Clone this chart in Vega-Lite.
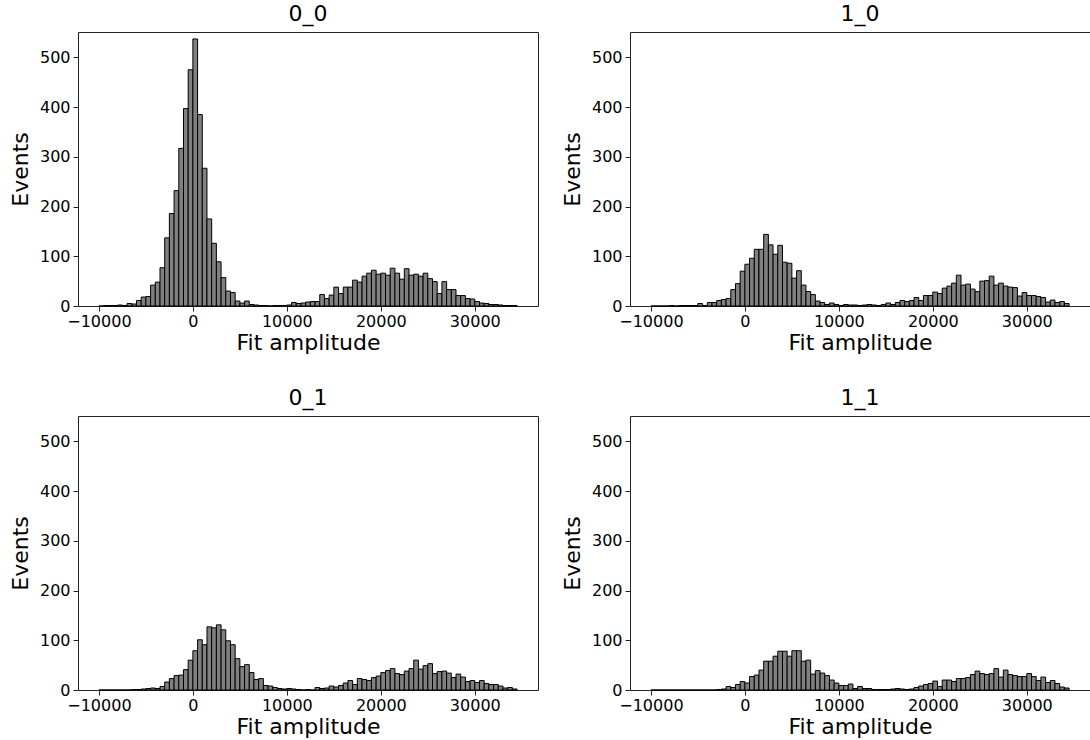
{
"$schema": "https://vega.github.io/schema/vega-lite/v6.json",
"padding": {"left": 8, "top": 2, "right": 0, "bottom": 0},
"background": "white",
"bounds": "flush",
"columns": 2,
"spacing": {"row": 110, "column": 92},
"config": {
  "font": "DejaVu Sans",
  "view": {"stroke": "#222", "strokeWidth": 1},
  "axis": {"grid": false, "domain": false, "tickColor": "#222", "tickSize": 5, "labelFontSize": 16, "titleFontSize": 22, "labelColor": "#000", "titleColor": "#000", "titleFontWeight": "normal", "labelPadding": 3, "labelFont": "DejaVu Sans", "titleFont": "DejaVu Sans"},
  "axisX": {"titlePadding": 3, "labelPadding": 2},
  "axisY": {"titlePadding": 7},
  "title": {"fontSize": 22, "fontWeight": "normal", "font": "DejaVu Sans", "color": "#000", "anchor": "middle", "offset": 6}
},
"data": {"values": [
{"p":"0_0","b":-10000,"e":-9500,"c":0},{"p":"0_0","b":-9500,"e":-9000,"c":1},{"p":"0_0","b":-9000,"e":-8500,"c":1},{"p":"0_0","b":-8500,"e":-8000,"c":1},{"p":"0_0","b":-8000,"e":-7500,"c":2},{"p":"0_0","b":-7500,"e":-7000,"c":1},{"p":"0_0","b":-7000,"e":-6500,"c":5},{"p":"0_0","b":-6500,"e":-6000,"c":4},{"p":"0_0","b":-6000,"e":-5500,"c":11},{"p":"0_0","b":-5500,"e":-5000,"c":18},
{"p":"0_0","b":-5000,"e":-4500,"c":19},{"p":"0_0","b":-4500,"e":-4000,"c":42},{"p":"0_0","b":-4000,"e":-3500,"c":48},{"p":"0_0","b":-3500,"e":-3000,"c":77},{"p":"0_0","b":-3000,"e":-2500,"c":137},{"p":"0_0","b":-2500,"e":-2000,"c":186},{"p":"0_0","b":-2000,"e":-1500,"c":232},{"p":"0_0","b":-1500,"e":-1000,"c":317},{"p":"0_0","b":-1000,"e":-500,"c":397},{"p":"0_0","b":-500,"e":0,"c":475},
{"p":"0_0","b":0,"e":500,"c":537},{"p":"0_0","b":500,"e":1000,"c":385},{"p":"0_0","b":1000,"e":1500,"c":277},{"p":"0_0","b":1500,"e":2000,"c":175},{"p":"0_0","b":2000,"e":2500,"c":126},{"p":"0_0","b":2500,"e":3000,"c":89},{"p":"0_0","b":3000,"e":3500,"c":57},{"p":"0_0","b":3500,"e":4000,"c":30},{"p":"0_0","b":4000,"e":4500,"c":27},{"p":"0_0","b":4500,"e":5000,"c":10},
{"p":"0_0","b":5000,"e":5500,"c":6},{"p":"0_0","b":5500,"e":6000,"c":10},{"p":"0_0","b":6000,"e":6500,"c":3},{"p":"0_0","b":6500,"e":7000,"c":2},{"p":"0_0","b":7000,"e":7500,"c":1},{"p":"0_0","b":7500,"e":8000,"c":1},{"p":"0_0","b":8000,"e":8500,"c":0},{"p":"0_0","b":8500,"e":9000,"c":1},{"p":"0_0","b":9000,"e":9500,"c":1},{"p":"0_0","b":9500,"e":10000,"c":1},
{"p":"0_0","b":10000,"e":10500,"c":2},{"p":"0_0","b":10500,"e":11000,"c":7},{"p":"0_0","b":11000,"e":11500,"c":5},{"p":"0_0","b":11500,"e":12000,"c":6},{"p":"0_0","b":12000,"e":12500,"c":8},{"p":"0_0","b":12500,"e":13000,"c":9},{"p":"0_0","b":13000,"e":13500,"c":9},{"p":"0_0","b":13500,"e":14000,"c":23},{"p":"0_0","b":14000,"e":14500,"c":15},{"p":"0_0","b":14500,"e":15000,"c":22},
{"p":"0_0","b":15000,"e":15500,"c":38},{"p":"0_0","b":15500,"e":16000,"c":25},{"p":"0_0","b":16000,"e":16500,"c":38},{"p":"0_0","b":16500,"e":17000,"c":38},{"p":"0_0","b":17000,"e":17500,"c":52},{"p":"0_0","b":17500,"e":18000,"c":48},{"p":"0_0","b":18000,"e":18500,"c":60},{"p":"0_0","b":18500,"e":19000,"c":66},{"p":"0_0","b":19000,"e":19500,"c":72},{"p":"0_0","b":19500,"e":20000,"c":64},
{"p":"0_0","b":20000,"e":20500,"c":66},{"p":"0_0","b":20500,"e":21000,"c":62},{"p":"0_0","b":21000,"e":21500,"c":76},{"p":"0_0","b":21500,"e":22000,"c":66},{"p":"0_0","b":22000,"e":22500,"c":54},{"p":"0_0","b":22500,"e":23000,"c":75},{"p":"0_0","b":23000,"e":23500,"c":62},{"p":"0_0","b":23500,"e":24000,"c":64},{"p":"0_0","b":24000,"e":24500,"c":60},{"p":"0_0","b":24500,"e":25000,"c":66},
{"p":"0_0","b":25000,"e":25500,"c":55},{"p":"0_0","b":25500,"e":26000,"c":49},{"p":"0_0","b":26000,"e":26500,"c":25},{"p":"0_0","b":26500,"e":27000,"c":49},{"p":"0_0","b":27000,"e":27500,"c":33},{"p":"0_0","b":27500,"e":28000,"c":33},{"p":"0_0","b":28000,"e":28500,"c":21},{"p":"0_0","b":28500,"e":29000,"c":21},{"p":"0_0","b":29000,"e":29500,"c":15},{"p":"0_0","b":29500,"e":30000,"c":14},
{"p":"0_0","b":30000,"e":30500,"c":9},{"p":"0_0","b":30500,"e":31000,"c":6},{"p":"0_0","b":31000,"e":31500,"c":5},{"p":"0_0","b":31500,"e":32000,"c":3},{"p":"0_0","b":32000,"e":32500,"c":3},{"p":"0_0","b":32500,"e":33000,"c":2},{"p":"0_0","b":33000,"e":33500,"c":1},{"p":"0_0","b":33500,"e":34000,"c":1},{"p":"0_0","b":34000,"e":34500,"c":1},

{"p":"1_0","b":-10000,"e":-9500,"c":0},{"p":"1_0","b":-9500,"e":-9000,"c":0},{"p":"1_0","b":-9000,"e":-8500,"c":0},{"p":"1_0","b":-8500,"e":-8000,"c":0},{"p":"1_0","b":-8000,"e":-7500,"c":1},{"p":"1_0","b":-7500,"e":-7000,"c":0},{"p":"1_0","b":-7000,"e":-6500,"c":1},{"p":"1_0","b":-6500,"e":-6000,"c":1},{"p":"1_0","b":-6000,"e":-5500,"c":1},{"p":"1_0","b":-5500,"e":-5000,"c":1},
{"p":"1_0","b":-5000,"e":-4500,"c":5},{"p":"1_0","b":-4500,"e":-4000,"c":1},{"p":"1_0","b":-4000,"e":-3500,"c":7},{"p":"1_0","b":-3500,"e":-3000,"c":7},{"p":"1_0","b":-3000,"e":-2500,"c":11},{"p":"1_0","b":-2500,"e":-2000,"c":13},{"p":"1_0","b":-2000,"e":-1500,"c":15},{"p":"1_0","b":-1500,"e":-1000,"c":33},{"p":"1_0","b":-1000,"e":-500,"c":45},{"p":"1_0","b":-500,"e":0,"c":70},
{"p":"1_0","b":0,"e":500,"c":84},{"p":"1_0","b":500,"e":1000,"c":96},{"p":"1_0","b":1000,"e":1500,"c":114},{"p":"1_0","b":1500,"e":2000,"c":114},{"p":"1_0","b":2000,"e":2500,"c":144},{"p":"1_0","b":2500,"e":3000,"c":123},{"p":"1_0","b":3000,"e":3500,"c":104},{"p":"1_0","b":3500,"e":4000,"c":122},{"p":"1_0","b":4000,"e":4500,"c":88},{"p":"1_0","b":4500,"e":5000,"c":86},
{"p":"1_0","b":5000,"e":5500,"c":56},{"p":"1_0","b":5500,"e":6000,"c":71},{"p":"1_0","b":6000,"e":6500,"c":42},{"p":"1_0","b":6500,"e":7000,"c":29},{"p":"1_0","b":7000,"e":7500,"c":23},{"p":"1_0","b":7500,"e":8000,"c":10},{"p":"1_0","b":8000,"e":8500,"c":7},{"p":"1_0","b":8500,"e":9000,"c":3},{"p":"1_0","b":9000,"e":9500,"c":6},{"p":"1_0","b":9500,"e":10000,"c":3},
{"p":"1_0","b":10000,"e":10500,"c":1},{"p":"1_0","b":10500,"e":11000,"c":3},{"p":"1_0","b":11000,"e":11500,"c":2},{"p":"1_0","b":11500,"e":12000,"c":2},{"p":"1_0","b":12000,"e":12500,"c":1},{"p":"1_0","b":12500,"e":13000,"c":2},{"p":"1_0","b":13000,"e":13500,"c":3},{"p":"1_0","b":13500,"e":14000,"c":2},{"p":"1_0","b":14000,"e":14500,"c":1},{"p":"1_0","b":14500,"e":15000,"c":3},
{"p":"1_0","b":15000,"e":15500,"c":6},{"p":"1_0","b":15500,"e":16000,"c":3},{"p":"1_0","b":16000,"e":16500,"c":7},{"p":"1_0","b":16500,"e":17000,"c":11},{"p":"1_0","b":17000,"e":17500,"c":9},{"p":"1_0","b":17500,"e":18000,"c":11},{"p":"1_0","b":18000,"e":18500,"c":17},{"p":"1_0","b":18500,"e":19000,"c":11},{"p":"1_0","b":19000,"e":19500,"c":21},{"p":"1_0","b":19500,"e":20000,"c":21},
{"p":"1_0","b":20000,"e":20500,"c":28},{"p":"1_0","b":20500,"e":21000,"c":25},{"p":"1_0","b":21000,"e":21500,"c":36},{"p":"1_0","b":21500,"e":22000,"c":40},{"p":"1_0","b":22000,"e":22500,"c":46},{"p":"1_0","b":22500,"e":23000,"c":62},{"p":"1_0","b":23000,"e":23500,"c":42},{"p":"1_0","b":23500,"e":24000,"c":44},{"p":"1_0","b":24000,"e":24500,"c":34},{"p":"1_0","b":24500,"e":25000,"c":29},
{"p":"1_0","b":25000,"e":25500,"c":50},{"p":"1_0","b":25500,"e":26000,"c":51},{"p":"1_0","b":26000,"e":26500,"c":60},{"p":"1_0","b":26500,"e":27000,"c":42},{"p":"1_0","b":27000,"e":27500,"c":46},{"p":"1_0","b":27500,"e":28000,"c":40},{"p":"1_0","b":28000,"e":28500,"c":38},{"p":"1_0","b":28500,"e":29000,"c":37},{"p":"1_0","b":29000,"e":29500,"c":20},{"p":"1_0","b":29500,"e":30000,"c":27},
{"p":"1_0","b":30000,"e":30500,"c":21},{"p":"1_0","b":30500,"e":31000,"c":21},{"p":"1_0","b":31000,"e":31500,"c":19},{"p":"1_0","b":31500,"e":32000,"c":17},{"p":"1_0","b":32000,"e":32500,"c":8},{"p":"1_0","b":32500,"e":33000,"c":12},{"p":"1_0","b":33000,"e":33500,"c":7},{"p":"1_0","b":33500,"e":34000,"c":9},{"p":"1_0","b":34000,"e":34500,"c":5},

{"p":"0_1","b":-10000,"e":-9500,"c":0},{"p":"0_1","b":-9500,"e":-9000,"c":0},{"p":"0_1","b":-9000,"e":-8500,"c":0},{"p":"0_1","b":-8500,"e":-8000,"c":0},{"p":"0_1","b":-8000,"e":-7500,"c":0},{"p":"0_1","b":-7500,"e":-7000,"c":0},{"p":"0_1","b":-7000,"e":-6500,"c":0},{"p":"0_1","b":-6500,"e":-6000,"c":1},{"p":"0_1","b":-6000,"e":-5500,"c":1},{"p":"0_1","b":-5500,"e":-5000,"c":2},
{"p":"0_1","b":-5000,"e":-4500,"c":3},{"p":"0_1","b":-4500,"e":-4000,"c":4},{"p":"0_1","b":-4000,"e":-3500,"c":3},{"p":"0_1","b":-3500,"e":-3000,"c":7},{"p":"0_1","b":-3000,"e":-2500,"c":16},{"p":"0_1","b":-2500,"e":-2000,"c":23},{"p":"0_1","b":-2000,"e":-1500,"c":29},{"p":"0_1","b":-1500,"e":-1000,"c":30},{"p":"0_1","b":-1000,"e":-500,"c":41},{"p":"0_1","b":-500,"e":0,"c":60},
{"p":"0_1","b":0,"e":500,"c":79},{"p":"0_1","b":500,"e":1000,"c":101},{"p":"0_1","b":1000,"e":1500,"c":91},{"p":"0_1","b":1500,"e":2000,"c":127},{"p":"0_1","b":2000,"e":2500,"c":125},{"p":"0_1","b":2500,"e":3000,"c":131},{"p":"0_1","b":3000,"e":3500,"c":121},{"p":"0_1","b":3500,"e":4000,"c":99},{"p":"0_1","b":4000,"e":4500,"c":91},{"p":"0_1","b":4500,"e":5000,"c":63},
{"p":"0_1","b":5000,"e":5500,"c":47},{"p":"0_1","b":5500,"e":6000,"c":51},{"p":"0_1","b":6000,"e":6500,"c":35},{"p":"0_1","b":6500,"e":7000,"c":21},{"p":"0_1","b":7000,"e":7500,"c":23},{"p":"0_1","b":7500,"e":8000,"c":9},{"p":"0_1","b":8000,"e":8500,"c":8},{"p":"0_1","b":8500,"e":9000,"c":5},{"p":"0_1","b":9000,"e":9500,"c":3},{"p":"0_1","b":9500,"e":10000,"c":2},
{"p":"0_1","b":10000,"e":10500,"c":3},{"p":"0_1","b":10500,"e":11000,"c":2},{"p":"0_1","b":11000,"e":11500,"c":1},{"p":"0_1","b":11500,"e":12000,"c":0},{"p":"0_1","b":12000,"e":12500,"c":1},{"p":"0_1","b":12500,"e":13000,"c":0},{"p":"0_1","b":13000,"e":13500,"c":5},{"p":"0_1","b":13500,"e":14000,"c":3},{"p":"0_1","b":14000,"e":14500,"c":4},{"p":"0_1","b":14500,"e":15000,"c":8},
{"p":"0_1","b":15000,"e":15500,"c":6},{"p":"0_1","b":15500,"e":16000,"c":9},{"p":"0_1","b":16000,"e":16500,"c":14},{"p":"0_1","b":16500,"e":17000,"c":19},{"p":"0_1","b":17000,"e":17500,"c":11},{"p":"0_1","b":17500,"e":18000,"c":23},{"p":"0_1","b":18000,"e":18500,"c":21},{"p":"0_1","b":18500,"e":19000,"c":19},{"p":"0_1","b":19000,"e":19500,"c":25},{"p":"0_1","b":19500,"e":20000,"c":28},
{"p":"0_1","b":20000,"e":20500,"c":35},{"p":"0_1","b":20500,"e":21000,"c":39},{"p":"0_1","b":21000,"e":21500,"c":43},{"p":"0_1","b":21500,"e":22000,"c":33},{"p":"0_1","b":22000,"e":22500,"c":31},{"p":"0_1","b":22500,"e":23000,"c":38},{"p":"0_1","b":23000,"e":23500,"c":43},{"p":"0_1","b":23500,"e":24000,"c":60},{"p":"0_1","b":24000,"e":24500,"c":42},{"p":"0_1","b":24500,"e":25000,"c":49},
{"p":"0_1","b":25000,"e":25500,"c":53},{"p":"0_1","b":25500,"e":26000,"c":33},{"p":"0_1","b":26000,"e":26500,"c":37},{"p":"0_1","b":26500,"e":27000,"c":38},{"p":"0_1","b":27000,"e":27500,"c":34},{"p":"0_1","b":27500,"e":28000,"c":25},{"p":"0_1","b":28000,"e":28500,"c":32},{"p":"0_1","b":28500,"e":29000,"c":26},{"p":"0_1","b":29000,"e":29500,"c":17},{"p":"0_1","b":29500,"e":30000,"c":19},
{"p":"0_1","b":30000,"e":30500,"c":15},{"p":"0_1","b":30500,"e":31000,"c":19},{"p":"0_1","b":31000,"e":31500,"c":13},{"p":"0_1","b":31500,"e":32000,"c":11},{"p":"0_1","b":32000,"e":32500,"c":11},{"p":"0_1","b":32500,"e":33000,"c":8},{"p":"0_1","b":33000,"e":33500,"c":4},{"p":"0_1","b":33500,"e":34000,"c":5},{"p":"0_1","b":34000,"e":34500,"c":2},

{"p":"1_1","b":-10000,"e":-9500,"c":0},{"p":"1_1","b":-9500,"e":-9000,"c":0},{"p":"1_1","b":-9000,"e":-8500,"c":0},{"p":"1_1","b":-8500,"e":-8000,"c":0},{"p":"1_1","b":-8000,"e":-7500,"c":0},{"p":"1_1","b":-7500,"e":-7000,"c":0},{"p":"1_1","b":-7000,"e":-6500,"c":0},{"p":"1_1","b":-6500,"e":-6000,"c":0},{"p":"1_1","b":-6000,"e":-5500,"c":0},{"p":"1_1","b":-5500,"e":-5000,"c":0},
{"p":"1_1","b":-5000,"e":-4500,"c":0},{"p":"1_1","b":-4500,"e":-4000,"c":0},{"p":"1_1","b":-4000,"e":-3500,"c":0},{"p":"1_1","b":-3500,"e":-3000,"c":0},{"p":"1_1","b":-3000,"e":-2500,"c":1},{"p":"1_1","b":-2500,"e":-2000,"c":2},{"p":"1_1","b":-2000,"e":-1500,"c":7},{"p":"1_1","b":-1500,"e":-1000,"c":5},{"p":"1_1","b":-1000,"e":-500,"c":11},{"p":"1_1","b":-500,"e":0,"c":17},
{"p":"1_1","b":0,"e":500,"c":14},{"p":"1_1","b":500,"e":1000,"c":27},{"p":"1_1","b":1000,"e":1500,"c":30},{"p":"1_1","b":1500,"e":2000,"c":40},{"p":"1_1","b":2000,"e":2500,"c":58},{"p":"1_1","b":2500,"e":3000,"c":58},{"p":"1_1","b":3000,"e":3500,"c":68},{"p":"1_1","b":3500,"e":4000,"c":78},{"p":"1_1","b":4000,"e":4500,"c":78},{"p":"1_1","b":4500,"e":5000,"c":68},
{"p":"1_1","b":5000,"e":5500,"c":79},{"p":"1_1","b":5500,"e":6000,"c":79},{"p":"1_1","b":6000,"e":6500,"c":58},{"p":"1_1","b":6500,"e":7000,"c":60},{"p":"1_1","b":7000,"e":7500,"c":32},{"p":"1_1","b":7500,"e":8000,"c":39},{"p":"1_1","b":8000,"e":8500,"c":34},{"p":"1_1","b":8500,"e":9000,"c":29},{"p":"1_1","b":9000,"e":9500,"c":20},{"p":"1_1","b":9500,"e":10000,"c":14},
{"p":"1_1","b":10000,"e":10500,"c":9},{"p":"1_1","b":10500,"e":11000,"c":9},{"p":"1_1","b":11000,"e":11500,"c":12},{"p":"1_1","b":11500,"e":12000,"c":3},{"p":"1_1","b":12000,"e":12500,"c":7},{"p":"1_1","b":12500,"e":13000,"c":3},{"p":"1_1","b":13000,"e":13500,"c":3},{"p":"1_1","b":13500,"e":14000,"c":1},{"p":"1_1","b":14000,"e":14500,"c":1},{"p":"1_1","b":14500,"e":15000,"c":1},
{"p":"1_1","b":15000,"e":15500,"c":1},{"p":"1_1","b":15500,"e":16000,"c":2},{"p":"1_1","b":16000,"e":16500,"c":3},{"p":"1_1","b":16500,"e":17000,"c":2},{"p":"1_1","b":17000,"e":17500,"c":1},{"p":"1_1","b":17500,"e":18000,"c":2},{"p":"1_1","b":18000,"e":18500,"c":5},{"p":"1_1","b":18500,"e":19000,"c":8},{"p":"1_1","b":19000,"e":19500,"c":11},{"p":"1_1","b":19500,"e":20000,"c":13},
{"p":"1_1","b":20000,"e":20500,"c":18},{"p":"1_1","b":20500,"e":21000,"c":7},{"p":"1_1","b":21000,"e":21500,"c":20},{"p":"1_1","b":21500,"e":22000,"c":20},{"p":"1_1","b":22000,"e":22500,"c":17},{"p":"1_1","b":22500,"e":23000,"c":23},{"p":"1_1","b":23000,"e":23500,"c":23},{"p":"1_1","b":23500,"e":24000,"c":25},{"p":"1_1","b":24000,"e":24500,"c":31},{"p":"1_1","b":24500,"e":25000,"c":38},
{"p":"1_1","b":25000,"e":25500,"c":33},{"p":"1_1","b":25500,"e":26000,"c":31},{"p":"1_1","b":26000,"e":26500,"c":33},{"p":"1_1","b":26500,"e":27000,"c":43},{"p":"1_1","b":27000,"e":27500,"c":26},{"p":"1_1","b":27500,"e":28000,"c":40},{"p":"1_1","b":28000,"e":28500,"c":31},{"p":"1_1","b":28500,"e":29000,"c":29},{"p":"1_1","b":29000,"e":29500,"c":27},{"p":"1_1","b":29500,"e":30000,"c":27},
{"p":"1_1","b":30000,"e":30500,"c":33},{"p":"1_1","b":30500,"e":31000,"c":27},{"p":"1_1","b":31000,"e":31500,"c":19},{"p":"1_1","b":31500,"e":32000,"c":26},{"p":"1_1","b":32000,"e":32500,"c":15},{"p":"1_1","b":32500,"e":33000,"c":19},{"p":"1_1","b":33000,"e":33500,"c":13},{"p":"1_1","b":33500,"e":34000,"c":6},{"p":"1_1","b":34000,"e":34500,"c":4}
]},
"concat": [
{"width": 460, "height": 274, "title": "0_0", "transform": [{"filter": {"field": "p", "equal": "0_0"}}],
 "mark": {"type": "bar", "fill": "#808080", "stroke": "#000", "strokeWidth": 1},
 "encoding": {
  "x": {"field": "b", "type": "quantitative", "scale": {"domain": [-12225, 36725], "nice": false, "zero": false}, "axis": {"values": [-10000, 0, 10000, 20000, 30000], "format": "d", "title": "Fit amplitude"}},
  "x2": {"field": "e"},
  "y": {"field": "c", "type": "quantitative", "scale": {"domain": [0, 551], "nice": false}, "axis": {"values": [0, 100, 200, 300, 400, 500], "title": "Events"}},
  "y2": {"datum": 0}}},
{"width": 460, "height": 274, "title": "1_0", "transform": [{"filter": {"field": "p", "equal": "1_0"}}],
 "mark": {"type": "bar", "fill": "#808080", "stroke": "#000", "strokeWidth": 1},
 "encoding": {
  "x": {"field": "b", "type": "quantitative", "scale": {"domain": [-12225, 36725], "nice": false, "zero": false}, "axis": {"values": [-10000, 0, 10000, 20000, 30000], "format": "d", "title": "Fit amplitude"}},
  "x2": {"field": "e"},
  "y": {"field": "c", "type": "quantitative", "scale": {"domain": [0, 551], "nice": false}, "axis": {"values": [0, 100, 200, 300, 400, 500], "title": "Events"}},
  "y2": {"datum": 0}}},
{"width": 460, "height": 274, "title": "0_1", "transform": [{"filter": {"field": "p", "equal": "0_1"}}],
 "mark": {"type": "bar", "fill": "#808080", "stroke": "#000", "strokeWidth": 1},
 "encoding": {
  "x": {"field": "b", "type": "quantitative", "scale": {"domain": [-12225, 36725], "nice": false, "zero": false}, "axis": {"values": [-10000, 0, 10000, 20000, 30000], "format": "d", "title": "Fit amplitude"}},
  "x2": {"field": "e"},
  "y": {"field": "c", "type": "quantitative", "scale": {"domain": [0, 551], "nice": false}, "axis": {"values": [0, 100, 200, 300, 400, 500], "title": "Events"}},
  "y2": {"datum": 0}}},
{"width": 460, "height": 274, "title": "1_1", "transform": [{"filter": {"field": "p", "equal": "1_1"}}],
 "mark": {"type": "bar", "fill": "#808080", "stroke": "#000", "strokeWidth": 1},
 "encoding": {
  "x": {"field": "b", "type": "quantitative", "scale": {"domain": [-12225, 36725], "nice": false, "zero": false}, "axis": {"values": [-10000, 0, 10000, 20000, 30000], "format": "d", "title": "Fit amplitude"}},
  "x2": {"field": "e"},
  "y": {"field": "c", "type": "quantitative", "scale": {"domain": [0, 551], "nice": false}, "axis": {"values": [0, 100, 200, 300, 400, 500], "title": "Events"}},
  "y2": {"datum": 0}}}
]
}
